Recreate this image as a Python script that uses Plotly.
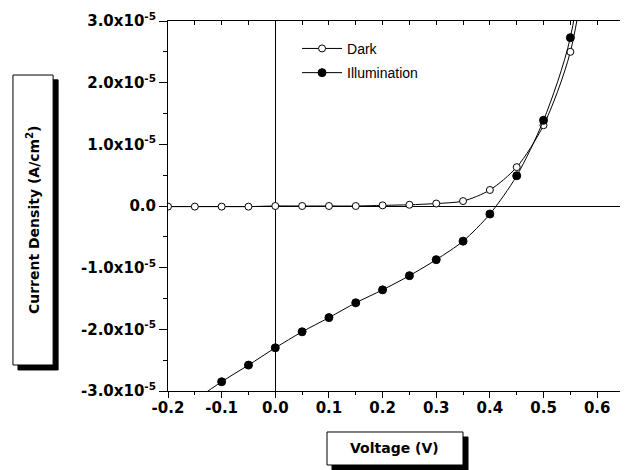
import plotly.graph_objects as go

# Data (A/cm^2)
voltage_dark = [-0.2, -0.15, -0.1, -0.05, 0.0, 0.05, 0.1, 0.15, 0.2, 0.25, 0.3, 0.35, 0.4, 0.45, 0.5, 0.55, 0.6]
current_dark = [-0.01e-5, -0.01e-5, -0.01e-5, -0.01e-5, 0.0, 0.0, 0.0, 0.0, 0.01e-5, 0.02e-5, 0.04e-5, 0.08e-5,
                0.26e-5, 0.63e-5, 1.31e-5, 2.5e-5, 5.2e-5]
voltage_illum = [-0.15, -0.1, -0.05, 0.0, 0.05, 0.1, 0.15, 0.2, 0.25, 0.3, 0.35, 0.4, 0.45, 0.5, 0.55, 0.6]
current_illum = [-3.15e-5, -2.85e-5, -2.58e-5, -2.30e-5, -2.04e-5, -1.81e-5, -1.57e-5, -1.36e-5, -1.13e-5,
                 -0.87e-5, -0.57e-5, -0.13e-5, 0.49e-5, 1.39e-5, 2.73e-5, 6.0e-5]

y_tickvals = [-3e-5, -2e-5, -1e-5, 0, 1e-5, 2e-5, 3e-5]
y_ticktext = ["-3.0x10<sup>-5</sup>", "-2.0x10<sup>-5</sup>", "-1.0x10<sup>-5</sup>", "0.0",
              "1.0x10<sup>-5</sup>", "2.0x10<sup>-5</sup>", "3.0x10<sup>-5</sup>"]
x_tickvals = [-0.2, -0.1, 0.0, 0.1, 0.2, 0.3, 0.4, 0.5, 0.6]
x_ticktext = ["-0.2", "-0.1", "0.0", "0.1", "0.2", "0.3", "0.4", "0.5", "0.6"]

fig = go.Figure()
fig.add_trace(go.Scatter(
    x=voltage_dark, y=current_dark, name="Dark", mode="lines+markers", legendgroup="dark",
    line=dict(color="black", width=1, shape="spline", smoothing=0.8),
    marker=dict(symbol="circle", size=7, color="white", line=dict(color="black", width=1)),
    cliponaxis=True))
fig.add_trace(go.Scatter(
    x=voltage_illum, y=current_illum, name="Illumination", mode="lines+markers", legendgroup="illum",
    line=dict(color="black", width=1, shape="spline", smoothing=0.8),
    marker=dict(symbol="circle", size=8, color="black", line=dict(color="black", width=1)),
    cliponaxis=True))
# empty trace for mirrored top/right axes
fig.add_trace(go.Scatter(x=[], y=[], xaxis="x2", yaxis="y2", showlegend=False, hoverinfo="skip"))

tickfont = dict(family="DejaVu Sans", size=15, color="black", weight="bold")
xr = [-0.2, 0.65]
yr = [-3e-5, 3e-5]

fig.update_layout(
    width=620, height=462,
    margin=dict(l=160, r=4, t=13, b=79, autoexpand=False),
    paper_bgcolor="white", plot_bgcolor="white",
    showlegend=True,
    legend=dict(x=0.283, y=0.968, xanchor="left", yanchor="top", bgcolor="rgba(0,0,0,0)",
                font=dict(family="Liberation Sans", size=14, color="black"),
                tracegroupgap=3, itemwidth=40),
    xaxis=dict(range=xr, tickvals=x_tickvals, ticktext=x_ticktext, ticks="outside", ticklen=6,
               tickcolor="black", showline=True, linecolor="black", linewidth=1, showgrid=False,
               zeroline=True, zerolinecolor="black", zerolinewidth=1, tickfont=tickfont,
               ticklabelstandoff=-3,
               minor=dict(dtick=0.05, tick0=-0.2, ticks="outside", ticklen=3, tickcolor="black"),
               fixedrange=True, automargin=False),
    yaxis=dict(range=yr, tickvals=y_tickvals, ticktext=y_ticktext, ticks="outside", ticklen=8,
               tickcolor="black", showline=True, linecolor="black", linewidth=1, showgrid=False,
               zeroline=True, zerolinecolor="black", zerolinewidth=1, tickfont=tickfont,
               minor=dict(dtick=0.5e-5, tick0=-3e-5, ticks="outside", ticklen=4, tickcolor="black"),
               fixedrange=True, automargin=False),
    xaxis2=dict(range=xr, overlaying="x", side="top", anchor="y2", dtick=0.05, tick0=-0.2,
                ticks="inside", ticklen=4, tickcolor="black", showticklabels=False, showline=True,
                linecolor="black", linewidth=1, showgrid=False, zeroline=False, fixedrange=True),
    yaxis2=dict(range=yr, overlaying="y", side="right", anchor="x2", dtick=0.5e-5, tick0=-3e-5,
                ticks="inside", ticklen=4, tickcolor="black", showticklabels=False, showline=True,
                linecolor="black", linewidth=1, showgrid=False, zeroline=False, fixedrange=True),
)

# Axis title boxes with drop shadows
shapes = [
    dict(type="rect", xref="paper", yref="paper", x0=-0.329, x1=-0.241, y0=0.0568, y1=0.841,
         fillcolor="black", line=dict(color="black", width=1), layer="above"),
    dict(type="rect", xref="paper", yref="paper", x0=-0.340, x1=-0.252, y0=0.0703, y1=0.854,
         fillcolor="white", line=dict(color="black", width=1), layer="above"),
    dict(type="rect", xref="paper", yref="paper", x0=0.3597, x1=0.6579, y0=-0.2135, y1=-0.1243,
         fillcolor="black", line=dict(color="black", width=1), layer="above"),
    dict(type="rect", xref="paper", yref="paper", x0=0.3487, x1=0.6469, y0=-0.2, y1=-0.1108,
         fillcolor="white", line=dict(color="black", width=1), layer="above"),
]
fig.update_layout(shapes=shapes)
titlefont = dict(family="DejaVu Sans", size=14, color="black", weight="bold")
fig.add_annotation(text="Current Density (A/cm<sup>2</sup>)", xref="paper", yref="paper",
                   x=-0.296, y=0.462, textangle=-90, showarrow=False, font=titlefont,
                   xanchor="center", yanchor="middle")
fig.add_annotation(text="Voltage (V)", xref="paper", yref="paper",
                   x=0.4978, y=-0.1554, showarrow=False, font=titlefont,
                   xanchor="center", yanchor="middle")

fig.write_html("out.html")
